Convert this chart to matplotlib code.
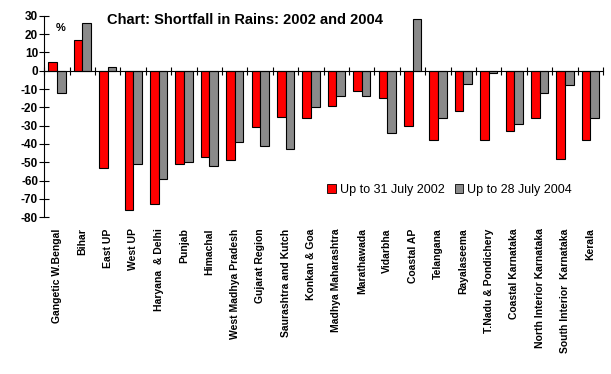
import matplotlib.pyplot as plt
import numpy as np
from matplotlib.patches import Patch

plt.rcParams['font.family'] = ['Liberation Sans', 'DejaVu Sans']

regions = ['Gangetic W.Bengal', 'Bihar', 'East UP', 'West UP', 'Haryana  & Delhi',
           'Punjab', 'Himachal', 'West Madhya Pradesh', 'Gujarat Region',
           'Saurashtra and Kutch', 'Konkan & Goa', 'Madhya Maharashtra',
           'Marathawada', 'Vidarbha', 'Coastal AP', 'Telangana', 'Rayalaseema',
           'T.Nadu & Pondichery', 'Coastal Karnataka', 'North Interior Karnataka',
           'South Interior  Karnataka', 'Kerala']
rain_2002 = [5, 17, -53, -76, -73, -51, -47, -49, -31, -25, -26, -19, -11, -15,
             -30, -38, -22, -38, -33, -26, -48, -38]
rain_2004 = [-12, 26, 2, -51, -59, -50, -52, -39, -41, -43, -20, -14, -14, -34,
             28, -26, -7, -1, -29, -12, -8, -26]
yticks = list(range(-80, 31, 10))

red = '#ff0000'
grey = '#8a8a8a'

fig = plt.figure(figsize=(6.11, 3.74), dpi=100)
ax = fig.add_axes([0.0725, 0.419, 0.9145, 0.539])

x = np.arange(len(regions))
w = 0.34
ax.bar(x - w / 2, rain_2002, w, color=red, edgecolor='black', linewidth=0.8, zorder=3)
ax.bar(x + w / 2, rain_2004, w, color=grey, edgecolor='black', linewidth=0.8, zorder=3)

ax.set_xlim(-0.5, len(regions) - 0.5)
ax.set_ylim(-80, 30)
ax.set_yticks(yticks)
ax.set_yticklabels([str(t) for t in yticks], fontsize=8.5, fontweight='bold')
ax.tick_params(axis='y', direction='inout', length=7, width=0.8, pad=1)

for s in ['top', 'right']:
    ax.spines[s].set_visible(False)
ax.spines['left'].set_linewidth(0.8)
ax.spines['bottom'].set_position(('data', 0))
ax.spines['bottom'].set_linewidth(0.8)
ax.spines['bottom'].set_zorder(4)

# category boundaries as ticks on the zero line
ax.set_xticks(np.arange(-0.5, len(regions)), minor=True)
ax.set_xticks([])
ax.tick_params(axis='x', which='minor', direction='inout', length=6, width=0.8)

for i, name in enumerate(regions):
    ax.annotate(name, xy=(i, 0), xycoords=('data', 'axes fraction'),
                xytext=(0, -8), textcoords='offset points', rotation=90,
                ha='center', va='top', fontsize=7.5, fontweight='bold')

fig.text(0.092, 0.918, '%', fontsize=8, fontweight='bold')
fig.text(0.175, 0.946, 'Chart: Shortfall in Rains: 2002 and 2004',
         fontsize=10.5, fontweight='bold', va='center')

handles = [Patch(facecolor=red, edgecolor='black', linewidth=0.6),
           Patch(facecolor=grey, edgecolor='black', linewidth=0.6)]
fig.legend(handles, ['Up to 31 July 2002', 'Up to 28 July 2004'],
           loc='center', bbox_to_anchor=(0.736, 0.492), ncol=2, frameon=False,
           fontsize=9, handlelength=0.7, handleheight=0.7, handletextpad=0.3,
           columnspacing=0.8, borderpad=0)

fig.savefig('out.png', dpi=100)
